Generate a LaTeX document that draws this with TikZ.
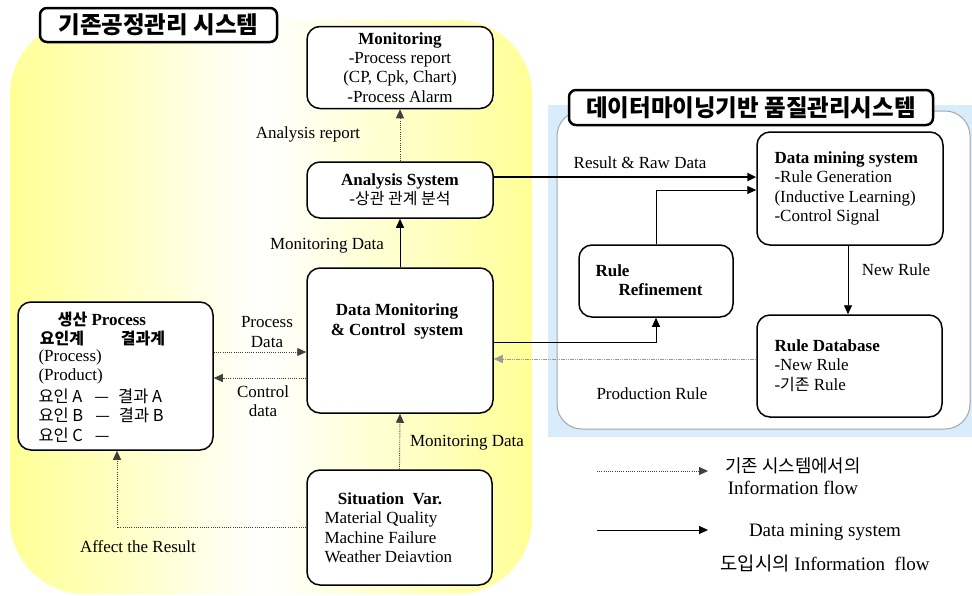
\documentclass[tikz,border=0pt]{standalone}
\usepackage{fontspec}
\setmainfont{Liberation Serif}
\newfontfamily\kr[Scale=0.94]{Noto Sans CJK KR}
\usetikzlibrary{arrows.meta}
\definecolor{ylw}{RGB}{255,255,150}
\definecolor{lblue}{RGB}{216,236,252}
\begin{document}
\begin{tikzpicture}[x=1pt,y=-1pt,
  font=\fontsize{17}{19.3}\selectfont,
  box/.style={draw=black, line width=1.5pt, rounded corners=13pt, fill=white},
  titlebox/.style={draw=black, line width=2.5pt, rounded corners=7pt, fill=white, inner sep=3pt,
    font=\fontsize{25}{28}\selectfont\kr\bfseries},
  tip/.style={-{Triangle[length=9pt,width=8pt]}},
  solidarrow/.style={tip, draw=black, line width=0.8pt},
  dotarrow/.style={tip, draw=black!75, line width=0.9pt, dash pattern=on 1pt off 1.2pt},
  grayarrow/.style={tip, draw=black!40, line width=0.9pt, dash pattern=on 1.2pt off 0.6pt},
  thickarrow/.style={tip, draw=black, line width=2.6pt},
  lbl/.style={inner sep=1pt}
]
\useasboundingbox (0,0) rectangle (972,595);

% yellow background of the existing system
\begin{scope}
  \clip[rounded corners=75pt] (10,20) rectangle (532,594);
  \shade[left color=ylw, right color=white] (10,20) rectangle (265,594);
  \shade[left color=white, right color=ylw] (264.5,20) rectangle (532,594);
\end{scope}

% blue background of the data mining system
\fill[lblue] (548,105) rectangle (972,437);
\draw[black!35, line width=1pt, fill=white, rounded corners=25pt] (557,111) rectangle (970,429);

% titles
\node[titlebox, minimum width=237pt, minimum height=34pt] (t1) at (158.5,25) {기존공정관리 시스템};
\node[titlebox, minimum width=364pt, minimum height=35pt] (t2) at (751,107.5) {데이터마이닝기반 품질관리시스템};

% boxes of the existing system
\node[box, minimum width=186pt, minimum height=82pt, align=center] (mon) at (400,67.5)
  {\textbf{Monitoring}\\-Process report\\(CP, Cpk, Chart)\\-Process Alarm};
\node[box, minimum width=186pt, minimum height=56pt, align=center] (ana) at (400,190)
  {\textbf{Analysis System}\\-{\kr 상관 관계 분석}};
\node[box, minimum width=186pt, minimum height=145pt] (dmc) at (400,340.5) {};
\node[align=center, font=\fontsize{17}{19.3}\selectfont\bfseries] (dmct) at (397,321.5)
  {Data Monitoring\\\& Control\ \ system};
\node[box, minimum width=185pt, minimum height=115pt] (sit) at (399.5,527.5) {};
\node[font=\fontsize{17}{19.3}\selectfont\bfseries] (sitt) at (390,499) {Situation\ \ Var.};
\node[anchor=west, align=left] (sitl) at (321,537.5)
  {Material Quality\\Machine Failure\\Weather Deiavtion};

% production process box
\node[box, minimum width=195pt, minimum height=148pt] (proc) at (115.5,376) {};
\node[font=\fontsize{17}{19.3}\selectfont\bfseries] (proct) at (102,320) {{\kr 생산} Process};
\node[font=\fontsize{17}{19.3}\selectfont\kr\bfseries] (pc1) at (62,339) {요인계};
\node[font=\fontsize{17}{19.3}\selectfont\kr\bfseries] (pc2) at (143,339) {결과계};
\node[anchor=west, align=left] (procl) at (35,367) {(Process)\\(Product)};
\node[anchor=west, align=left, font=\fontsize{17.5}{19.3}\selectfont\kr] (procf) at (35,415.5)
  {요인 A\hspace{12pt}—\hspace{9pt}결과 A\\요인 B\hspace{12pt}—\hspace{9pt}결과 B\\요인 C\hspace{12pt}—};

% data mining system boxes
\node[box, minimum width=186pt, minimum height=113pt] (dm) at (850,188.5) {};
\node[anchor=west, align=left] (dmt) at (771,188.5)
  {\textbf{Data mining system}\\-Rule Generation\\(Inductive Learning)\\-Control Signal};
\node[box, minimum width=154pt, minimum height=72pt] (rr) at (656,281) {};
\node[anchor=west, align=left, font=\fontsize{17}{19.3}\selectfont\bfseries] (rrt) at (592,280.5)
  {Rule\\\hspace*{23pt}Refinement};
\node[box, minimum width=185pt, minimum height=102pt] (rdb) at (849.5,366) {};
\node[anchor=west, align=left] (rdbt) at (771,365.5)
  {\textbf{Rule Database}\\-New Rule\\-{\kr 기존} Rule};

% helper rows
\coordinate (yPD) at (0,352);
\coordinate (yCD) at (0,378);
\coordinate (yRD) at (0,177);
\coordinate (yRR) at (0,190);
\coordinate (yPR) at (0,359);
\coordinate (yRF) at (0,342);

% connectors
\draw[dotarrow] (ana.north) -- (mon.south);
\draw[solidarrow] (dmc.north) -- (ana.south);
\draw[dotarrow] (sit.north) -- (dmc.south);
\draw[dotarrow] (proc.east |- yPD) -- (dmc.west |- yPD);
\draw[dotarrow] (dmc.west |- yCD) -- (proc.east |- yCD);
\draw[dotarrow] (sit.west) -| ([xshift=1.5pt]proc.south);
\draw[thickarrow] (ana.east |- yRD) -- (dm.west |- yRD);
\draw[solidarrow] (rr.north) |- (dm.west |- yRR);
\draw[solidarrow] ([xshift=-2pt]dm.south) -- ([xshift=-1.5pt]rdb.north);
\draw[grayarrow] (rdb.west |- yPR) -- (dmc.east |- yPR);
\draw[solidarrow] (dmc.east |- yRF) -| (rr.south);

% connector labels
\node[lbl] (l1) at (308,134) {Analysis report};
\node[lbl] (l2) at (327,246) {Monitoring Data};
\node[lbl] (l3) at (467,443) {Monitoring Data};
\node[lbl, align=center] (l4) at (267,332) {Process\\Data};
\node[lbl, align=center] (l5) at (263,401) {Control\\data};
\node[lbl] (l6) at (138,547) {Affect the Result};
\node[lbl] (l7) at (640,163) {Result \& Raw Data};
\node[lbl] (l8) at (896,270) {New Rule};
\node[lbl] (l9) at (652,394) {Production Rule};

% legend
\coordinate (la1) at (597,471);
\coordinate (la2) at (708,471);
\coordinate (lb1) at (597,530);
\coordinate (lb2) at (708,530);
\draw[dotarrow] (la1) -- (la2);
\draw[solidarrow] (lb1) -- (lb2);
\node[lbl, font=\fontsize{19}{21}\selectfont\kr] (g1) at (793,466) {기존 시스템에서의};
\node[lbl, font=\fontsize{19}{21}\selectfont] (g2) at (793,488) {Information flow};
\node[lbl, font=\fontsize{19}{21}\selectfont] (g3) at (825,532) {Data mining system};
\node[lbl, font=\fontsize{19}{21}\selectfont] (g4) at (825,563) {{\kr\fontsize{20}{21}\selectfont 도입시의} Information\ \ flow};
\end{tikzpicture}
\end{document}
